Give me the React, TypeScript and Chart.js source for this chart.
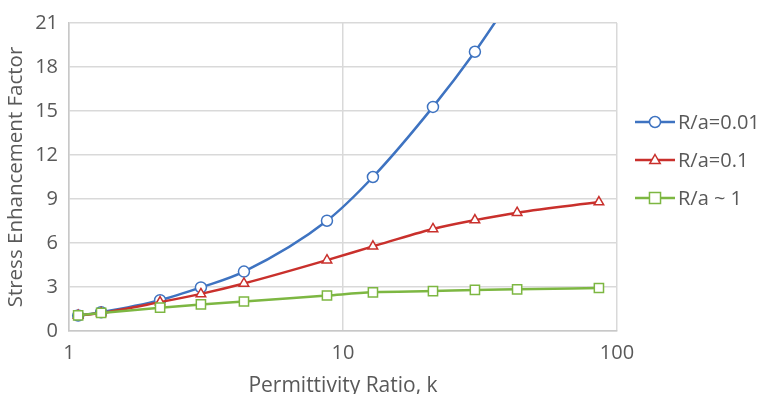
import React, { useEffect, useRef } from "react";
import { Chart, registerables } from "chart.js";

Chart.register(...registerables);

const kValues = [1.08, 1.31, 2.15, 3.03, 4.35, 8.74, 12.86, 21.3, 30.3, 43.2];
const kValuesLong = [1.08, 1.31, 2.15, 3.03, 4.35, 8.74, 12.86, 21.3, 30.3, 43.2, 85.9];
const blueValues = [1.05, 1.28, 2.1, 2.97, 4.05, 7.52, 10.5, 15.28, 19.04, 23.3];
const redValues = [1.05, 1.23, 1.97, 2.53, 3.24, 4.83, 5.77, 6.96, 7.56, 8.07, 8.79];
const greenValues = [1.07, 1.23, 1.59, 1.81, 2.01, 2.42, 2.64, 2.72, 2.8, 2.84, 2.93];
const seriesLabels = ["R/a=0.01", "R/a=0.1", "R/a ~ 1"];
const xTicks = [1, 10, 100];
const yMin = 0;
const yMax = 21;
const yStep = 3;
const xTitle = "Permittivity Ratio, k";
const yTitle = "Stress Enhancement Factor";

const FONT = "'Open Sans', 'Noto Sans', sans-serif";
const TEXT = "#595959";

const legendPlugin = {
  id: "sideLegend",
  afterDraw(chart: any) {
    const ctx = chart.ctx;
    const area = chart.chartArea;
    const x0 = area.right + 18;
    const lineLen = 40;
    ctx.save();
    chart.data.datasets.forEach((ds: any, i: number) => {
      const y = area.top + 99 + i * 38;
      ctx.strokeStyle = ds.borderColor;
      ctx.lineWidth = ds.borderWidth;
      ctx.beginPath();
      ctx.moveTo(x0, y);
      ctx.lineTo(x0 + lineLen, y);
      ctx.stroke();
      const style = ds.pointStyle;
      ctx.lineWidth = ds.pointBorderWidth;
      ctx.fillStyle = "#ffffff";
      ctx.strokeStyle = ds.borderColor;
      const cx = x0 + lineLen / 2;
      ctx.beginPath();
      if (style === "circle") {
        ctx.arc(cx, y, ds.pointRadius, 0, Math.PI * 2);
      } else if (style === "triangle") {
        const r = ds.pointRadius;
        ctx.moveTo(cx, y - r);
        ctx.lineTo(cx + r * 0.95, y + r * 0.65);
        ctx.lineTo(cx - r * 0.95, y + r * 0.65);
        ctx.closePath();
      } else {
        const r = ds.pointRadius * 0.85;
        ctx.rect(cx - r, y - r, 2 * r, 2 * r);
      }
      ctx.fill();
      ctx.stroke();
      ctx.fillStyle = TEXT;
      ctx.font = `20px ${FONT}`;
      ctx.textBaseline = "middle";
      ctx.textAlign = "left";
      ctx.fillText(ds.label, x0 + lineLen + 3, y + 1);
    });
    ctx.restore();
  },
};

export default function App() {
  const ref = useRef<HTMLCanvasElement | null>(null);

  useEffect(() => {
    document.body.style.margin = "0";
    const canvas = ref.current;
    if (!canvas) return;
    const mk = (ks: number[], vs: number[]) => vs.map((v, i) => ({ x: ks[i], y: v }));
    const common = {
      borderWidth: 2.5,
      pointBorderWidth: 1.5,
      pointBackgroundColor: "#ffffff",
      cubicInterpolationMode: "monotone" as const,
      fill: false,
    };
    const chart = new Chart(canvas, {
      type: "line",
      data: {
        datasets: [
          {
            ...common,
            label: seriesLabels[0],
            data: mk(kValues, blueValues),
            borderColor: "#3E73C1",
            pointBorderColor: "#3E73C1",
            pointStyle: "circle",
            pointRadius: 5.5,
            order: 3,
          },
          {
            ...common,
            label: seriesLabels[1],
            data: mk(kValuesLong, redValues),
            borderColor: "#C9302C",
            pointBorderColor: "#C9302C",
            pointStyle: "triangle",
            pointRadius: 5.5,
            order: 2,
          },
          {
            ...common,
            label: seriesLabels[2],
            data: mk(kValuesLong, greenValues),
            borderColor: "#7DB742",
            pointBorderColor: "#7DB742",
            pointStyle: "rect",
            pointRadius: 6.5,
            order: 1,
          },
        ],
      },
      options: {
        animation: false,
        responsive: false,
        maintainAspectRatio: false,
        layout: { padding: { top: 18, right: 146, left: 0, bottom: 0 } },
        plugins: { legend: { display: false }, tooltip: { enabled: false } },
        scales: {
          x: {
            type: "logarithmic",
            min: 1,
            max: 100,
            afterBuildTicks: (s: any) => {
              s.ticks = xTicks.map((v) => ({ value: v }));
            },
            afterFit: (s: any) => {
              s.height = 63;
            },
            ticks: {
              autoSkip: false,
              maxRotation: 0,
              padding: 10,
              color: TEXT,
              font: { size: 20, family: FONT },
              callback: (v: any) => String(v),
            },
            grid: { color: "#D9D9D9", lineWidth: 1.5, drawTicks: false },
            border: { color: "#C8C8C8", width: 1.5 },
            title: {
              display: true,
              text: xTitle,
              color: TEXT,
              font: { size: 21, family: FONT },
              padding: { top: 0, bottom: -5 },
            },
          },
          y: {
            type: "linear",
            min: yMin,
            max: yMax,
            afterFit: (s: any) => {
              s.width = 69;
            },
            ticks: {
              stepSize: yStep,
              padding: 11,
              color: TEXT,
              font: { size: 20, family: FONT },
            },
            grid: { color: "#D9D9D9", lineWidth: 1.5, drawTicks: false },
            border: { color: "#C8C8C8", width: 1.5 },
            title: {
              display: true,
              text: yTitle,
              color: TEXT,
              font: { size: 20.5, family: FONT },
              padding: { top: 4, bottom: 0 },
            },
          },
        },
      },
      plugins: [legendPlugin],
    });
    return () => chart.destroy();
  }, []);

  return (
    <div style={{ position: "absolute", left: 0, top: 0, width: 763, height: 394, background: "#fff" }}>
      <canvas ref={ref} width={763} height={394} style={{ width: 763, height: 394, display: "block" }} />
    </div>
  );
}
